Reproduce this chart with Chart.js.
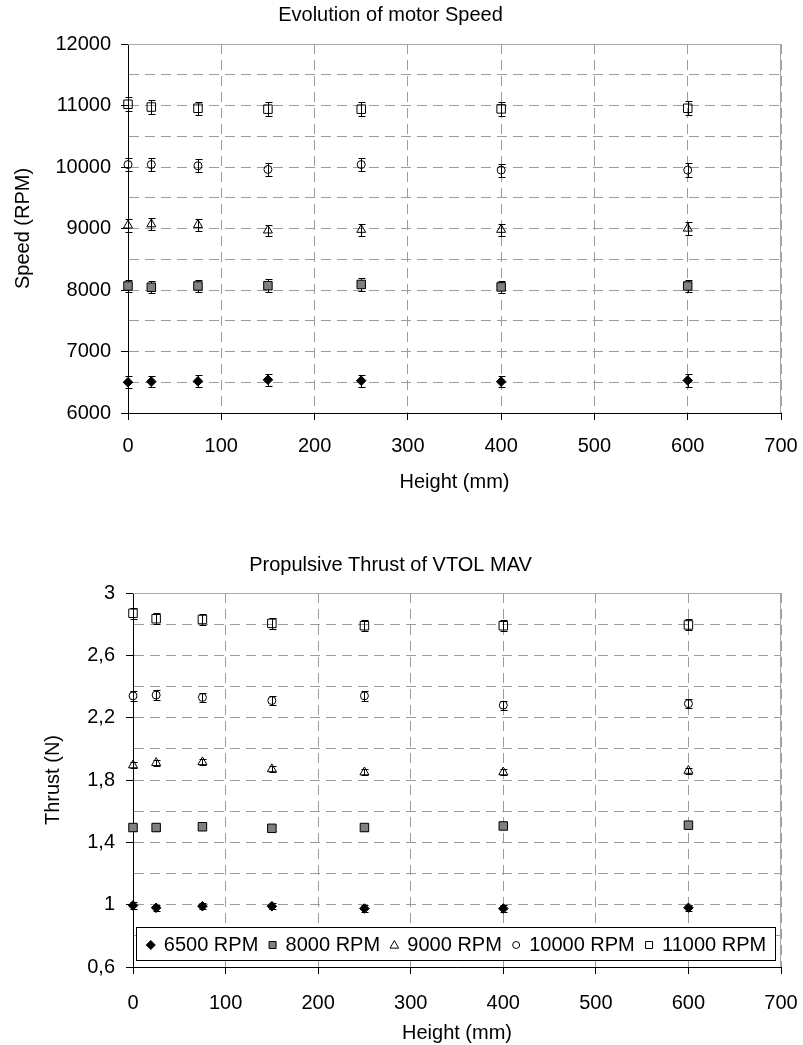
<!DOCTYPE html>
<html>
<head>
<meta charset="utf-8">
<script src="https://cdn.jsdelivr.net/npm/chart.js@4.4.0/dist/chart.umd.min.js"></script>
<style>
html, body { margin: 0; padding: 0; background: #fff; }
#wrap { position: relative; width: 803px; height: 1045px; background: #fff; }
canvas { position: absolute; left: 0; }
</style>
</head>
<body>
<div id="wrap">
  <canvas id="speedChart" width="803" height="520" style="top:0px"></canvas>
  <canvas id="thrustChart" width="803" height="525" style="top:520px"></canvas>
</div>
<script>
// ---------------- DATA ----------------
const heights = [0, 25, 75, 150, 250, 400, 600];
const seriesLabels = ['6500 RPM', '8000 RPM', '9000 RPM', '10000 RPM', '11000 RPM'];

// Motor speed (RPM)
const speed6500  = [6500, 6510, 6515, 6540, 6525, 6510, 6530];
const speed8000  = [8065, 8045, 8065, 8070, 8090, 8050, 8065];
const speed9000  = [9050, 9070, 9060, 8970, 8980, 8980, 9000];
const speed10000 = [10040, 10040, 10020, 9960, 10040, 9950, 9950];
const speed11000 = [11020, 10975, 10955, 10940, 10940, 10945, 10955];

const speedErr6500  = [95, 95, 100, 100, 100, 95, 100];
const speedErr8000  = [105, 100, 105, 105, 105, 100, 105];
const speedErr9000  = [100, 100, 100, 95, 95, 95, 100];
const speedErr10000 = [110, 110, 105, 105, 105, 105, 110];
const speedErr11000 = [115, 115, 110, 115, 115, 110, 115];

// Propulsive thrust (N)
const thrust6500  = [0.995, 0.98, 0.99, 0.99, 0.975, 0.975, 0.98];
const thrust8000  = [1.495, 1.495, 1.50, 1.49, 1.495, 1.505, 1.51];
const thrust9000  = [1.895, 1.91, 1.915, 1.87, 1.85, 1.85, 1.86];
const thrust10000 = [2.34, 2.345, 2.33, 2.31, 2.34, 2.28, 2.29];
const thrust11000 = [2.87, 2.835, 2.83, 2.805, 2.79, 2.79, 2.795];

const thrustErr6500  = [0.02, 0.02, 0.02, 0.02, 0.02, 0.02, 0.02];
const thrustErr8000  = [0.02, 0.02, 0.02, 0.02, 0.02, 0.02, 0.02];
const thrustErr9000  = [0.02, 0.02, 0.02, 0.02, 0.02, 0.02, 0.02];
const thrustErr10000 = [0.03, 0.03, 0.03, 0.03, 0.03, 0.03, 0.03];
const thrustErr11000 = [0.035, 0.035, 0.035, 0.035, 0.035, 0.035, 0.035];

// Tick labels
const heightTickValues = [0, 100, 200, 300, 400, 500, 600, 700];
const speedTickValues  = [6000, 7000, 8000, 9000, 10000, 11000, 12000];
const speedTickLabels  = ['6000', '7000', '8000', '9000', '10000', '11000', '12000'];
const thrustTickValues = [0.6, 1, 1.4, 1.8, 2.2, 2.6, 3];
const thrustTickLabels = ['0,6', '1', '1,4', '1,8', '2,2', '2,6', '3'];

// ---------------- STYLES ----------------
const FONT = "'Liberation Sans', Arial, Helvetica, sans-serif";
Chart.defaults.font.family = FONT;
Chart.defaults.font.size = 20;
Chart.defaults.color = '#000';

const GRID = '#9c9c9c';
const seriesStyles = [
  { pointStyle: 'rectRot',  radius: 4.8, fill: '#000000', border: '#000' },
  { pointStyle: 'rect',     radius: 6,   fill: '#808080', border: '#000' },
  { pointStyle: 'triangle', radius: 5.2, fill: 'rgba(0,0,0,0)', border: '#000' },
  { pointStyle: 'circle',   radius: 4,   fill: 'rgba(0,0,0,0)', border: '#000' },
  { pointStyle: 'rect',     radius: 6,   fill: 'rgba(0,0,0,0)', border: '#000' }
];

function buildDatasets(valueLists, errLists) {
  return valueLists.map((vals, i) => {
    const st = seriesStyles[i];
    return {
      label: seriesLabels[i],
      data: heights.map((h, j) => ({ x: h, y: vals[j] })),
      errors: errLists[i],
      showLine: false,
      clip: false,
      pointStyle: st.pointStyle,
      pointRadius: st.radius,
      pointHoverRadius: st.radius,
      pointBackgroundColor: st.fill,
      pointBorderColor: st.border,
      pointBorderWidth: 1,
      backgroundColor: st.fill,
      borderColor: st.border
    };
  });
}

// ---------------- PLUGINS ----------------
const errorBarsPlugin = {
  id: 'errorBars',
  beforeDatasetsDraw(chart) {
    const { ctx, scales: { x, y } } = chart;
    ctx.save();
    ctx.strokeStyle = '#000';
    ctx.lineWidth = 1;
    chart.data.datasets.forEach(ds => {
      if (!ds.errors) return;
      ds.data.forEach((p, j) => {
        const e = ds.errors[j];
        const px = Math.round(x.getPixelForValue(p.x)) + 0.5;
        const yTop = Math.round(y.getPixelForValue(p.y + e)) + 0.5;
        const yBot = Math.round(y.getPixelForValue(p.y - e)) + 0.5;
        ctx.beginPath();
        ctx.moveTo(px, yTop); ctx.lineTo(px, yBot);
        ctx.moveTo(px - 3, yTop); ctx.lineTo(px + 4, yTop);
        ctx.moveTo(px - 3, yBot); ctx.lineTo(px + 4, yBot);
        ctx.stroke();
      });
    });
    ctx.restore();
  }
};

const framePlugin = {
  id: 'frame',
  beforeDatasetsDraw(chart) {
    const { ctx, chartArea: a } = chart;
    ctx.save();
    ctx.strokeStyle = '#a8a8a8';
    ctx.lineWidth = 1;
    ctx.beginPath();
    const t = Math.round(a.top) + 0.5, r = Math.round(a.right) - 0.5;
    ctx.moveTo(a.left, t); ctx.lineTo(r, t);
    ctx.lineTo(r, a.bottom);
    ctx.stroke();
    ctx.restore();
  }
};

function drawMarker(ctx, style, cx, cy, r, fill) {
  ctx.beginPath();
  if (style === 'rectRot') {
    ctx.moveTo(cx, cy - r); ctx.lineTo(cx + r, cy); ctx.lineTo(cx, cy + r); ctx.lineTo(cx - r, cy); ctx.closePath();
  } else if (style === 'rect') {
    ctx.rect(cx - r, cy - r, 2 * r, 2 * r);
  } else if (style === 'triangle') {
    ctx.moveTo(cx, cy - r); ctx.lineTo(cx + r * 0.95, cy + r * 0.7); ctx.lineTo(cx - r * 0.95, cy + r * 0.7); ctx.closePath();
  } else {
    ctx.arc(cx, cy, r, 0, Math.PI * 2);
  }
  ctx.fillStyle = fill;
  ctx.fill();
  ctx.strokeStyle = '#000';
  ctx.lineWidth = 1;
  ctx.stroke();
}

const boxLegendPlugin = {
  id: 'boxLegend',
  afterDraw(chart) {
    const { ctx, chartArea: a } = chart;
    const left = Math.round(a.left + 3) + 0.5;
    const right = Math.round(a.right - 6) + 0.5;
    const bottom = Math.round(a.bottom - 7) + 0.5;
    const top = bottom - 33;
    ctx.save();
    ctx.fillStyle = '#fff';
    ctx.fillRect(left, top, right - left, bottom - top);
    ctx.strokeStyle = '#000';
    ctx.lineWidth = 1;
    ctx.strokeRect(left, top, right - left, bottom - top);
    ctx.font = '20px ' + FONT;
    ctx.textBaseline = 'middle';
    ctx.textAlign = 'left';
    const markerW = 10, gapMT = 8;
    const widths = seriesLabels.map(l => ctx.measureText(l).width);
    const content = widths.reduce((s, w) => s + w + markerW + gapMT, 0);
    const gap = (right - left - content) / 6;
    let xPos = left + gap;
    const cy = (top + bottom) / 2 + 1;
    seriesLabels.forEach((lab, i) => {
      const st = seriesStyles[i];
      const mr = st.pointStyle === 'rect' ? 3.5 : (st.pointStyle === 'circle' ? 3.5 : 4.5);
      drawMarker(ctx, st.pointStyle, xPos + markerW / 2, cy, mr, st.fill === 'rgba(0,0,0,0)' ? '#fff' : st.fill);
      ctx.fillStyle = '#000';
      ctx.fillText(lab, xPos + markerW + gapMT, cy);
      xPos += markerW + gapMT + widths[i] + gap;
    });
    ctx.restore();
  }
};

// ---------------- SCALES ----------------
function labelFor(values, labels) {
  return v => {
    const k = values.findIndex(t => Math.abs(t - v) < 1e-6);
    return k >= 0 ? labels[k] : '';
  };
}
function isMajor(values) {
  return v => values.some(t => Math.abs(t - v) < 1e-6);
}

function xScale(labelPad, height, titleBottom) {
  return {
    type: 'linear',
    min: 0, max: 700,
    afterBuildTicks: s => { s.ticks = heightTickValues.map(v => ({ value: v })); },
    ticks: { padding: labelPad, maxRotation: 0, autoSkip: false, font: { size: 20 }, color: '#000',
             callback: v => String(v) },
    grid: { color: GRID, lineWidth: 1, tickColor: '#000', tickLength: 7, tickWidth: 1 },
    border: { display: true, color: '#000', width: 1, dash: [10, 6] },
    title: { display: true, text: 'Height (mm)', font: { size: 20 }, color: '#000',
             padding: { top: 0, bottom: titleBottom } },
    afterFit: s => { s.height = height; s.paddingLeft = 0; s.paddingRight = 0; }
  };
}

function yScale(min, max, gridValues, tickValues, tickLabels, title, width, titlePad, labelPad) {
  const major = isMajor(tickValues);
  return {
    type: 'linear',
    min: min, max: max,
    afterBuildTicks: s => { s.ticks = gridValues.map(v => ({ value: v })); },
    ticks: { padding: labelPad, autoSkip: false, font: { size: 20 }, color: '#000',
             callback: labelFor(tickValues, tickLabels) },
    grid: { color: GRID, lineWidth: 1, tickLength: 7, tickWidth: 1,
            tickColor: c => (c.tick && major(c.tick.value)) ? '#000' : 'rgba(0,0,0,0)' },
    border: { display: true, color: '#000', width: 1, dash: [10, 6] },
    title: { display: true, text: title, font: { size: 20 }, color: '#000',
             padding: { top: titlePad, bottom: 0 } },
    afterFit: s => { s.width = width; }
  };
}

// grid positions (every half major step)
const speedGridValues = [];
for (let k = 0; k <= 12; k++) speedGridValues.push(6000 + k * 500);
const thrustGridValues = [];
for (let k = 0; k <= 12; k++) thrustGridValues.push(Math.round((0.6 + k * 0.2) * 10) / 10);

// ---------------- CHARTS ----------------
new Chart(document.getElementById('speedChart'), {
  type: 'scatter',
  data: {
    datasets: buildDatasets(
      [speed6500, speed8000, speed9000, speed10000, speed11000],
      [speedErr6500, speedErr8000, speedErr9000, speedErr10000, speedErr11000])
  },
  options: {
    responsive: false,
    animation: false,
    events: [],
    layout: { padding: { left: 0, right: 22, top: 0, bottom: 0 } },
    plugins: {
      legend: { display: false },
      tooltip: { enabled: false },
      title: { display: true, text: 'Evolution of motor Speed', font: { size: 20, weight: 'normal' },
               color: '#000', padding: { top: 3, bottom: 17 } }
    },
    scales: {
      x: xScale(14, 107, 26),
      y: yScale(6000, 12000, speedGridValues, speedTickValues, speedTickLabels, 'Speed (RPM)', 128, 11, 10)
    }
  },
  plugins: [framePlugin, errorBarsPlugin]
});

new Chart(document.getElementById('thrustChart'), {
  type: 'scatter',
  data: {
    datasets: buildDatasets(
      [thrust6500, thrust8000, thrust9000, thrust10000, thrust11000],
      [thrustErr6500, thrustErr8000, thrustErr9000, thrustErr10000, thrustErr11000])
  },
  options: {
    responsive: false,
    animation: false,
    events: [],
    layout: { padding: { left: 0, right: 22, top: 0, bottom: 0 } },
    plugins: {
      legend: { display: false },
      tooltip: { enabled: false },
      title: { display: true, text: 'Propulsive Thrust of VTOL MAV', font: { size: 20, weight: 'normal' },
               color: '#000', padding: { top: 33, bottom: 16 } }
    },
    scales: {
      x: xScale(17, 78, 0),
      y: yScale(0.6, 3, thrustGridValues, thrustTickValues, thrustTickLabels, 'Thrust (N)', 133, 41, 11)
    }
  },
  plugins: [framePlugin, errorBarsPlugin, boxLegendPlugin]
});
</script>
</body>
</html>
